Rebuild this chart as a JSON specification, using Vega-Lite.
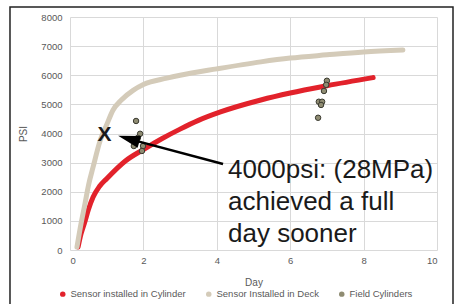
{
  "$schema": "https://vega.github.io/schema/vega-lite/v6.json",
  "width": 367,
  "height": 233,
  "autosize": {"type": "none"},
  "padding": {"left": 70, "top": 17, "right": 23, "bottom": 54},
  "background": "white",
  "config": {
    "view": {"stroke": null},
    "font": "Liberation Sans",
    "axis": {
      "grid": true,
      "gridColor": "#d9d9d9",
      "gridWidth": 1,
      "domain": false,
      "ticks": false,
      "labelColor": "#595959",
      "labelFontSize": 9.5,
      "labelFont": "Liberation Sans",
      "titleColor": "#595959",
      "titleFontSize": 10,
      "titleFontWeight": "normal",
      "titleFont": "Liberation Sans"
    },
    "axisY": {"tickCount": 8, "labelOverlap": false, "format": "d", "labelPadding": 8, "titlePadding": 12},
    "axisX": {"tickCount": 5, "labelPadding": 5, "titlePadding": 13},
    "legend": {
      "labelColor": "#595959",
      "labelFontSize": 9.5,
      "labelFont": "Liberation Sans"
    }
  },
  "datasets": {
    "curves": [
      {"series": "Sensor installed in Cylinder", "day": 0.22, "psi": 100},
      {"series": "Sensor installed in Cylinder", "day": 0.3, "psi": 550},
      {"series": "Sensor installed in Cylinder", "day": 0.4, "psi": 950},
      {"series": "Sensor installed in Cylinder", "day": 0.5, "psi": 1380},
      {"series": "Sensor installed in Cylinder", "day": 0.63, "psi": 1820},
      {"series": "Sensor installed in Cylinder", "day": 0.8, "psi": 2180},
      {"series": "Sensor installed in Cylinder", "day": 1.0, "psi": 2450},
      {"series": "Sensor installed in Cylinder", "day": 1.5, "psi": 3050},
      {"series": "Sensor installed in Cylinder", "day": 2.0, "psi": 3450},
      {"series": "Sensor installed in Cylinder", "day": 2.5, "psi": 3820},
      {"series": "Sensor installed in Cylinder", "day": 3.0, "psi": 4150},
      {"series": "Sensor installed in Cylinder", "day": 3.5, "psi": 4450},
      {"series": "Sensor installed in Cylinder", "day": 4.1, "psi": 4740},
      {"series": "Sensor installed in Cylinder", "day": 5.2, "psi": 5150},
      {"series": "Sensor installed in Cylinder", "day": 6.0, "psi": 5390},
      {"series": "Sensor installed in Cylinder", "day": 7.0, "psi": 5640},
      {"series": "Sensor installed in Cylinder", "day": 8.26, "psi": 5920},
      {"series": "Sensor Installed in Deck", "day": 0.19, "psi": 100},
      {"series": "Sensor Installed in Deck", "day": 0.3, "psi": 900},
      {"series": "Sensor Installed in Deck", "day": 0.41, "psi": 1600},
      {"series": "Sensor Installed in Deck", "day": 0.5, "psi": 2200},
      {"series": "Sensor Installed in Deck", "day": 0.63, "psi": 2850},
      {"series": "Sensor Installed in Deck", "day": 0.82, "psi": 3750},
      {"series": "Sensor Installed in Deck", "day": 1.0, "psi": 4300},
      {"series": "Sensor Installed in Deck", "day": 1.17, "psi": 4800},
      {"series": "Sensor Installed in Deck", "day": 1.4, "psi": 5150},
      {"series": "Sensor Installed in Deck", "day": 1.72, "psi": 5480},
      {"series": "Sensor Installed in Deck", "day": 2.0, "psi": 5680},
      {"series": "Sensor Installed in Deck", "day": 2.64, "psi": 5900},
      {"series": "Sensor Installed in Deck", "day": 3.0, "psi": 6000},
      {"series": "Sensor Installed in Deck", "day": 4.0, "psi": 6220},
      {"series": "Sensor Installed in Deck", "day": 5.2, "psi": 6460},
      {"series": "Sensor Installed in Deck", "day": 6.0, "psi": 6590},
      {"series": "Sensor Installed in Deck", "day": 7.0, "psi": 6700},
      {"series": "Sensor Installed in Deck", "day": 8.0, "psi": 6800},
      {"series": "Sensor Installed in Deck", "day": 9.07, "psi": 6870}
    ],
    "field": [
      {"series": "Field Cylinders", "day": 1.8, "psi": 4430},
      {"series": "Field Cylinders", "day": 1.91, "psi": 3990},
      {"series": "Field Cylinders", "day": 1.85, "psi": 3850},
      {"series": "Field Cylinders", "day": 1.74, "psi": 3570},
      {"series": "Field Cylinders", "day": 1.99, "psi": 3570},
      {"series": "Field Cylinders", "day": 1.96, "psi": 3400},
      {"series": "Field Cylinders", "day": 7.0, "psi": 5810},
      {"series": "Field Cylinders", "day": 6.98, "psi": 5670},
      {"series": "Field Cylinders", "day": 6.92, "psi": 5460},
      {"series": "Field Cylinders", "day": 6.78, "psi": 5090},
      {"series": "Field Cylinders", "day": 6.87, "psi": 5090},
      {"series": "Field Cylinders", "day": 6.84, "psi": 4980},
      {"series": "Field Cylinders", "day": 6.76, "psi": 4540}
    ],
    "one": [{}]
  },
  "layer": [
    {
      "data": {"name": "one"},
      "mark": {"type": "rect", "filled": false, "stroke": "#222222", "strokeWidth": 1.5, "clip": false},
      "encoding": {
        "x": {"datum": -1.635, "type": "quantitative", "title": "Day", "scale": {"domain": [0, 10]}},
        "x2": {"datum": 10.436},
        "y": {"datum": 8343, "type": "quantitative", "title": "PSI", "scale": {"domain": [0, 8000]}},
        "y2": {"datum": -1950}
      }
    },
    {
      "data": {"name": "curves"},
      "mark": {"type": "line", "strokeWidth": 5, "strokeCap": "round", "interpolate": "monotone"},
      "encoding": {
        "x": {"field": "day", "type": "quantitative", "title": "Day"},
        "y": {"field": "psi", "type": "quantitative", "title": "PSI"},
        "color": {"field": "series", "type": "nominal",
                  "scale": {"domain": ["Sensor installed in Cylinder", "Sensor Installed in Deck", "Field Cylinders"],
                            "range": ["#e2222b", "#d4cbb9", "#8f8c72"]},
                  "legend": {"title": null, "orient": "none", "direction": "horizontal", "legendX": -12, "legendY": 272,
                             "symbolType": "circle", "symbolSize": 30, "symbolStrokeWidth": 0, "symbolOpacity": 1, "labelOffset": 3, "columnPadding": 18}}
      }
    },
    {
      "data": {"name": "field"},
      "mark": {"type": "point", "filled": true, "size": 30, "stroke": "#3a3a30", "strokeWidth": 1, "opacity": 1},
      "encoding": {
        "x": {"field": "day", "type": "quantitative"},
        "y": {"field": "psi", "type": "quantitative"},
        "color": {"field": "series", "type": "nominal"}
      }
    },
    {
      "data": {"name": "one"},
      "mark": {"type": "rule", "stroke": "black", "strokeWidth": 2.5},
      "encoding": {
        "x": {"datum": 4.17, "type": "quantitative"},
        "y": {"datum": 2953, "type": "quantitative"},
        "x2": {"datum": 1.6},
        "y2": {"datum": 3815}
      }
    },
    {
      "data": {"name": "one"},
      "mark": {"type": "point", "shape": "M-1,0L1,-0.55L1,0.55Z", "size": 484, "filled": true, "color": "black", "opacity": 1, "angle": 16},
      "encoding": {
        "x": {"datum": 1.6, "type": "quantitative"},
        "y": {"datum": 3815, "type": "quantitative"}
      }
    },
    {
      "data": {"name": "one"},
      "mark": {"type": "text", "text": "X", "fontSize": 21, "fontWeight": "bold", "color": "#1a1a1a", "align": "center", "baseline": "middle", "font": "Liberation Sans"},
      "encoding": {
        "x": {"datum": 0.94, "type": "quantitative"},
        "y": {"datum": 3950, "type": "quantitative"}
      }
    },
    {
      "data": {"name": "one"},
      "mark": {"type": "text", "text": ["4000psi: (28MPa)", "achieved a full", "day sooner"], "fontSize": 26, "lineHeight": 32, "color": "#1a1a1a", "align": "left", "baseline": "alphabetic", "font": "Liberation Sans"},
      "encoding": {
        "x": {"datum": 4.305, "type": "quantitative"},
        "y": {"datum": 2472, "type": "quantitative"}
      }
    }
  ]
}
